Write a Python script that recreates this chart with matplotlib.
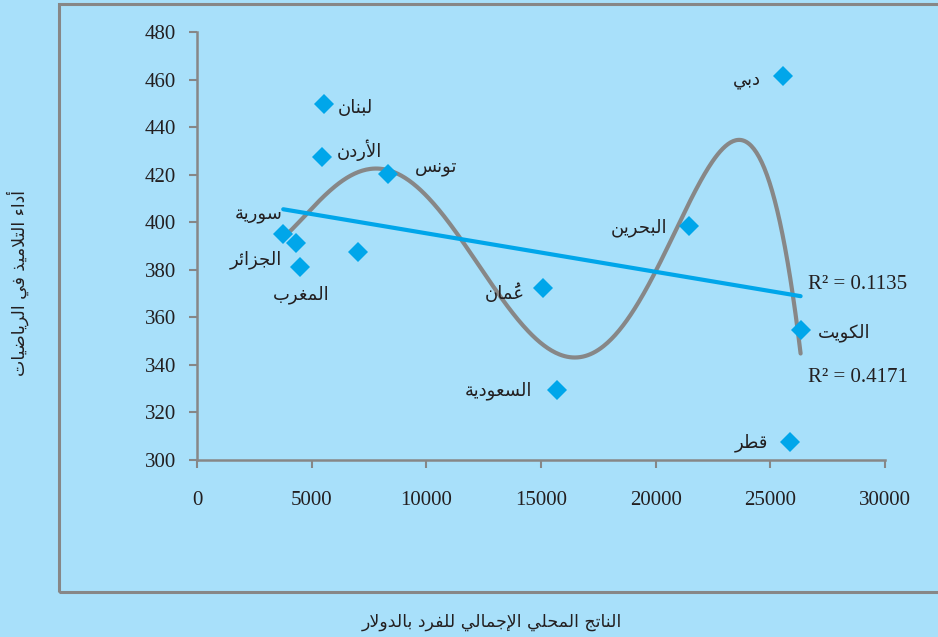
import numpy as np
import matplotlib
matplotlib.use("Agg")
import matplotlib.pyplot as plt
from matplotlib.patches import Rectangle

# ---------------- data ----------------
countries = ["سورية", "الجزائر", "المغرب", "", "لبنان", "الأردن", "تونس",
             "عُمان", "السعودية", "البحرين", "دبي", "الكويت", "قطر"]
gdp = [3760, 4330, 4500, 7040, 5550, 5470, 8350,
       15090, 15700, 21470, 25540, 26320, 25840]
score = [395.0, 391.3, 381.2, 387.5, 449.7, 427.4, 420.3,
         372.3, 329.4, 398.4, 461.5, 354.7, 307.6]
x_ticks = [0, 5000, 10000, 15000, 20000, 25000, 30000]
y_ticks = [300, 320, 340, 360, 380, 400, 420, 440, 460, 480]
r2_labels = ["0.1135", "0.4171"]
x_title = "الناتج المحلي الإجمالي للفرد بالدولار"
y_title = "أداء التلاميذ في الرياضيات"

# label offsets in pixels (layout) and alignment
label_offsets = [(-1, 19, "right"), (-14, -17, "right"), (1, -28, "center"),
                 (0, 0, "left"), (13, -4, "left"), (14, 7, "left"),
                 (26, 7, "left"), (-18, -5, "right"), (-25, -1, "right"),
                 (-22, -2, "right"), (-22, -4, "right"), (17, -3, "left"),
                 (-21, -1, "right")]

# ---------------- Arabic shaping ----------------
DUAL = {'ئ': 0xFE89, 'ب': 0xFE8F, 'ت': 0xFE95, 'ث': 0xFE99, 'ج': 0xFE9D,
        'ح': 0xFEA1, 'خ': 0xFEA5, 'س': 0xFEB1, 'ش': 0xFEB5, 'ص': 0xFEB9,
        'ض': 0xFEBD, 'ط': 0xFEC1, 'ظ': 0xFEC5, 'ع': 0xFEC9, 'غ': 0xFECD,
        'ف': 0xFED1, 'ق': 0xFED5, 'ك': 0xFED9, 'ل': 0xFEDD, 'م': 0xFEE1,
        'ن': 0xFEE5, 'ه': 0xFEE9, 'ي': 0xFEF1}
RIGHT = {'آ': 0xFE81, 'أ': 0xFE83, 'ؤ': 0xFE85, 'إ': 0xFE87, 'ا': 0xFE8D,
         'ة': 0xFE93, 'د': 0xFEA9, 'ذ': 0xFEAB, 'ر': 0xFEAD, 'ز': 0xFEAF,
         'و': 0xFEED, 'ى': 0xFEEF}
NONE = {'ء': 0xFE80}
LAMALEF = {'آ': 0xFEF5, 'أ': 0xFEF7, 'إ': 0xFEF9, 'ا': 0xFEFB}


def is_mark(c):
    return 0x064B <= ord(c) <= 0x065F or c == '\u0670'


def shape(text):
    units = []  # [key, type, marks]
    i = 0
    while i < len(text):
        c = text[i]
        if is_mark(c) and units:
            units[-1][2] += c
            i += 1
            continue
        if c == 'ل' and i + 1 < len(text) and text[i + 1] in LAMALEF:
            units.append([('LA', text[i + 1]), 'R', ''])
            i += 2
            continue
        if c in DUAL:
            units.append([c, 'D', ''])
        elif c in RIGHT:
            units.append([c, 'R', ''])
        elif c in NONE:
            units.append([c, 'N', ''])
        else:
            units.append([c, 'X', ''])
        i += 1
    out = []
    for k, (key, t, marks) in enumerate(units):
        prev = k > 0 and units[k - 1][1] == 'D' and t in 'DR'
        nxt = (t == 'D' and k + 1 < len(units) and units[k + 1][1] in 'DR')
        if t == 'X':
            g = key
        elif t == 'N':
            g = chr(NONE[key])
        elif isinstance(key, tuple):
            g = chr(LAMALEF[key[1]] + (1 if prev else 0))
        elif t == 'R':
            g = chr(RIGHT[key] + (1 if prev else 0))
        else:
            base = DUAL[key]
            if prev and nxt:
                g = chr(base + 3)
            elif prev:
                g = chr(base + 1)
            elif nxt:
                g = chr(base + 2)
            else:
                g = chr(base)
        out.append(marks + g)
    return ''.join(reversed(out))


# ---------------- style ----------------
BG = "#a8e0fa"
BLUE = "#00a6ea"
GRAY = "#878787"
TXT = "#231f20"
AR_FONT = ["DejaVu Sans"]
NUM_FONT = "Liberation Serif"

fig = plt.figure(figsize=(9.38, 6.37), dpi=100, facecolor=BG)
ax = fig.add_axes([197 / 938, 1 - 460 / 637, 688 / 938, 428 / 637])
ax.set_facecolor(BG)

# frame around chart
fig.patches.append(Rectangle((59 / 938, 1 - 592 / 637), 1.0, 588 / 637,
                             transform=fig.transFigure, fill=False,
                             edgecolor=GRAY, linewidth=2.2))

x = np.array(gdp, dtype=float)
y = np.array(score, dtype=float)

# trend lines: linear and polynomial (order 5)
xs = np.linspace(x.min(), x.max(), 400)
p1 = np.polyfit(x, y, 1)
xm, sx = x.mean(), x.std()
p5 = np.polyfit((x - xm) / sx, y, 5)
ax.plot(xs, np.polyval(p5, (xs - xm) / sx), color=GRAY, lw=3.0,
        solid_capstyle='round', zorder=2)
ax.plot(xs, np.polyval(p1, xs), color=BLUE, lw=3.0,
        solid_capstyle='round', zorder=2)

ax.plot(x, y, linestyle='none', marker='D', markersize=10,
        color=BLUE, markeredgewidth=0, zorder=3)

for xi, yi, name, (dx, dy, ha) in zip(x, y, countries, label_offsets):
    if not name:
        continue
    ax.annotate(shape(name), xy=(xi, yi), xytext=(dx, dy),
                textcoords='offset pixels', ha=ha, va='center',
                fontsize=13, family=AR_FONT, color=TXT)

ax.text(26640, 373.6, "R² = " + r2_labels[0], ha='left', va='center',
        fontsize=15, family=NUM_FONT, color=TXT)
ax.text(26640, 334.5, "R² = " + r2_labels[1], ha='left', va='center',
        fontsize=15, family=NUM_FONT, color=TXT)

ax.set_xlim(0, 30000)
ax.set_ylim(300, 480)
ax.set_xticks(x_ticks)
ax.set_yticks(y_ticks)
ax.set_xticklabels([str(v) for v in x_ticks])
ax.set_yticklabels([str(v) for v in y_ticks])
for lab in ax.get_xticklabels() + ax.get_yticklabels():
    lab.set_fontfamily(NUM_FONT)
    lab.set_fontsize(15)
    lab.set_color(TXT)
ax.tick_params(axis='both', direction='out', length=6, width=1.5, color=GRAY)
ax.tick_params(axis='x', pad=16)
ax.tick_params(axis='y', pad=9)
for s in ['top', 'right']:
    ax.spines[s].set_visible(False)
for s in ['left', 'bottom']:
    ax.spines[s].set_color(GRAY)
    ax.spines[s].set_linewidth(1.8)

fig.text(492 / 938, 1 - 622 / 637, shape(x_title), ha='center', va='center',
         fontsize=12.5, family=AR_FONT, color=TXT)
fig.text(18 / 938, 1 - 283 / 637, shape(y_title), ha='center', va='center',
         rotation=90, fontsize=12.5, family=AR_FONT, color=TXT)

fig.savefig("out.png", dpi=100, facecolor=BG)
